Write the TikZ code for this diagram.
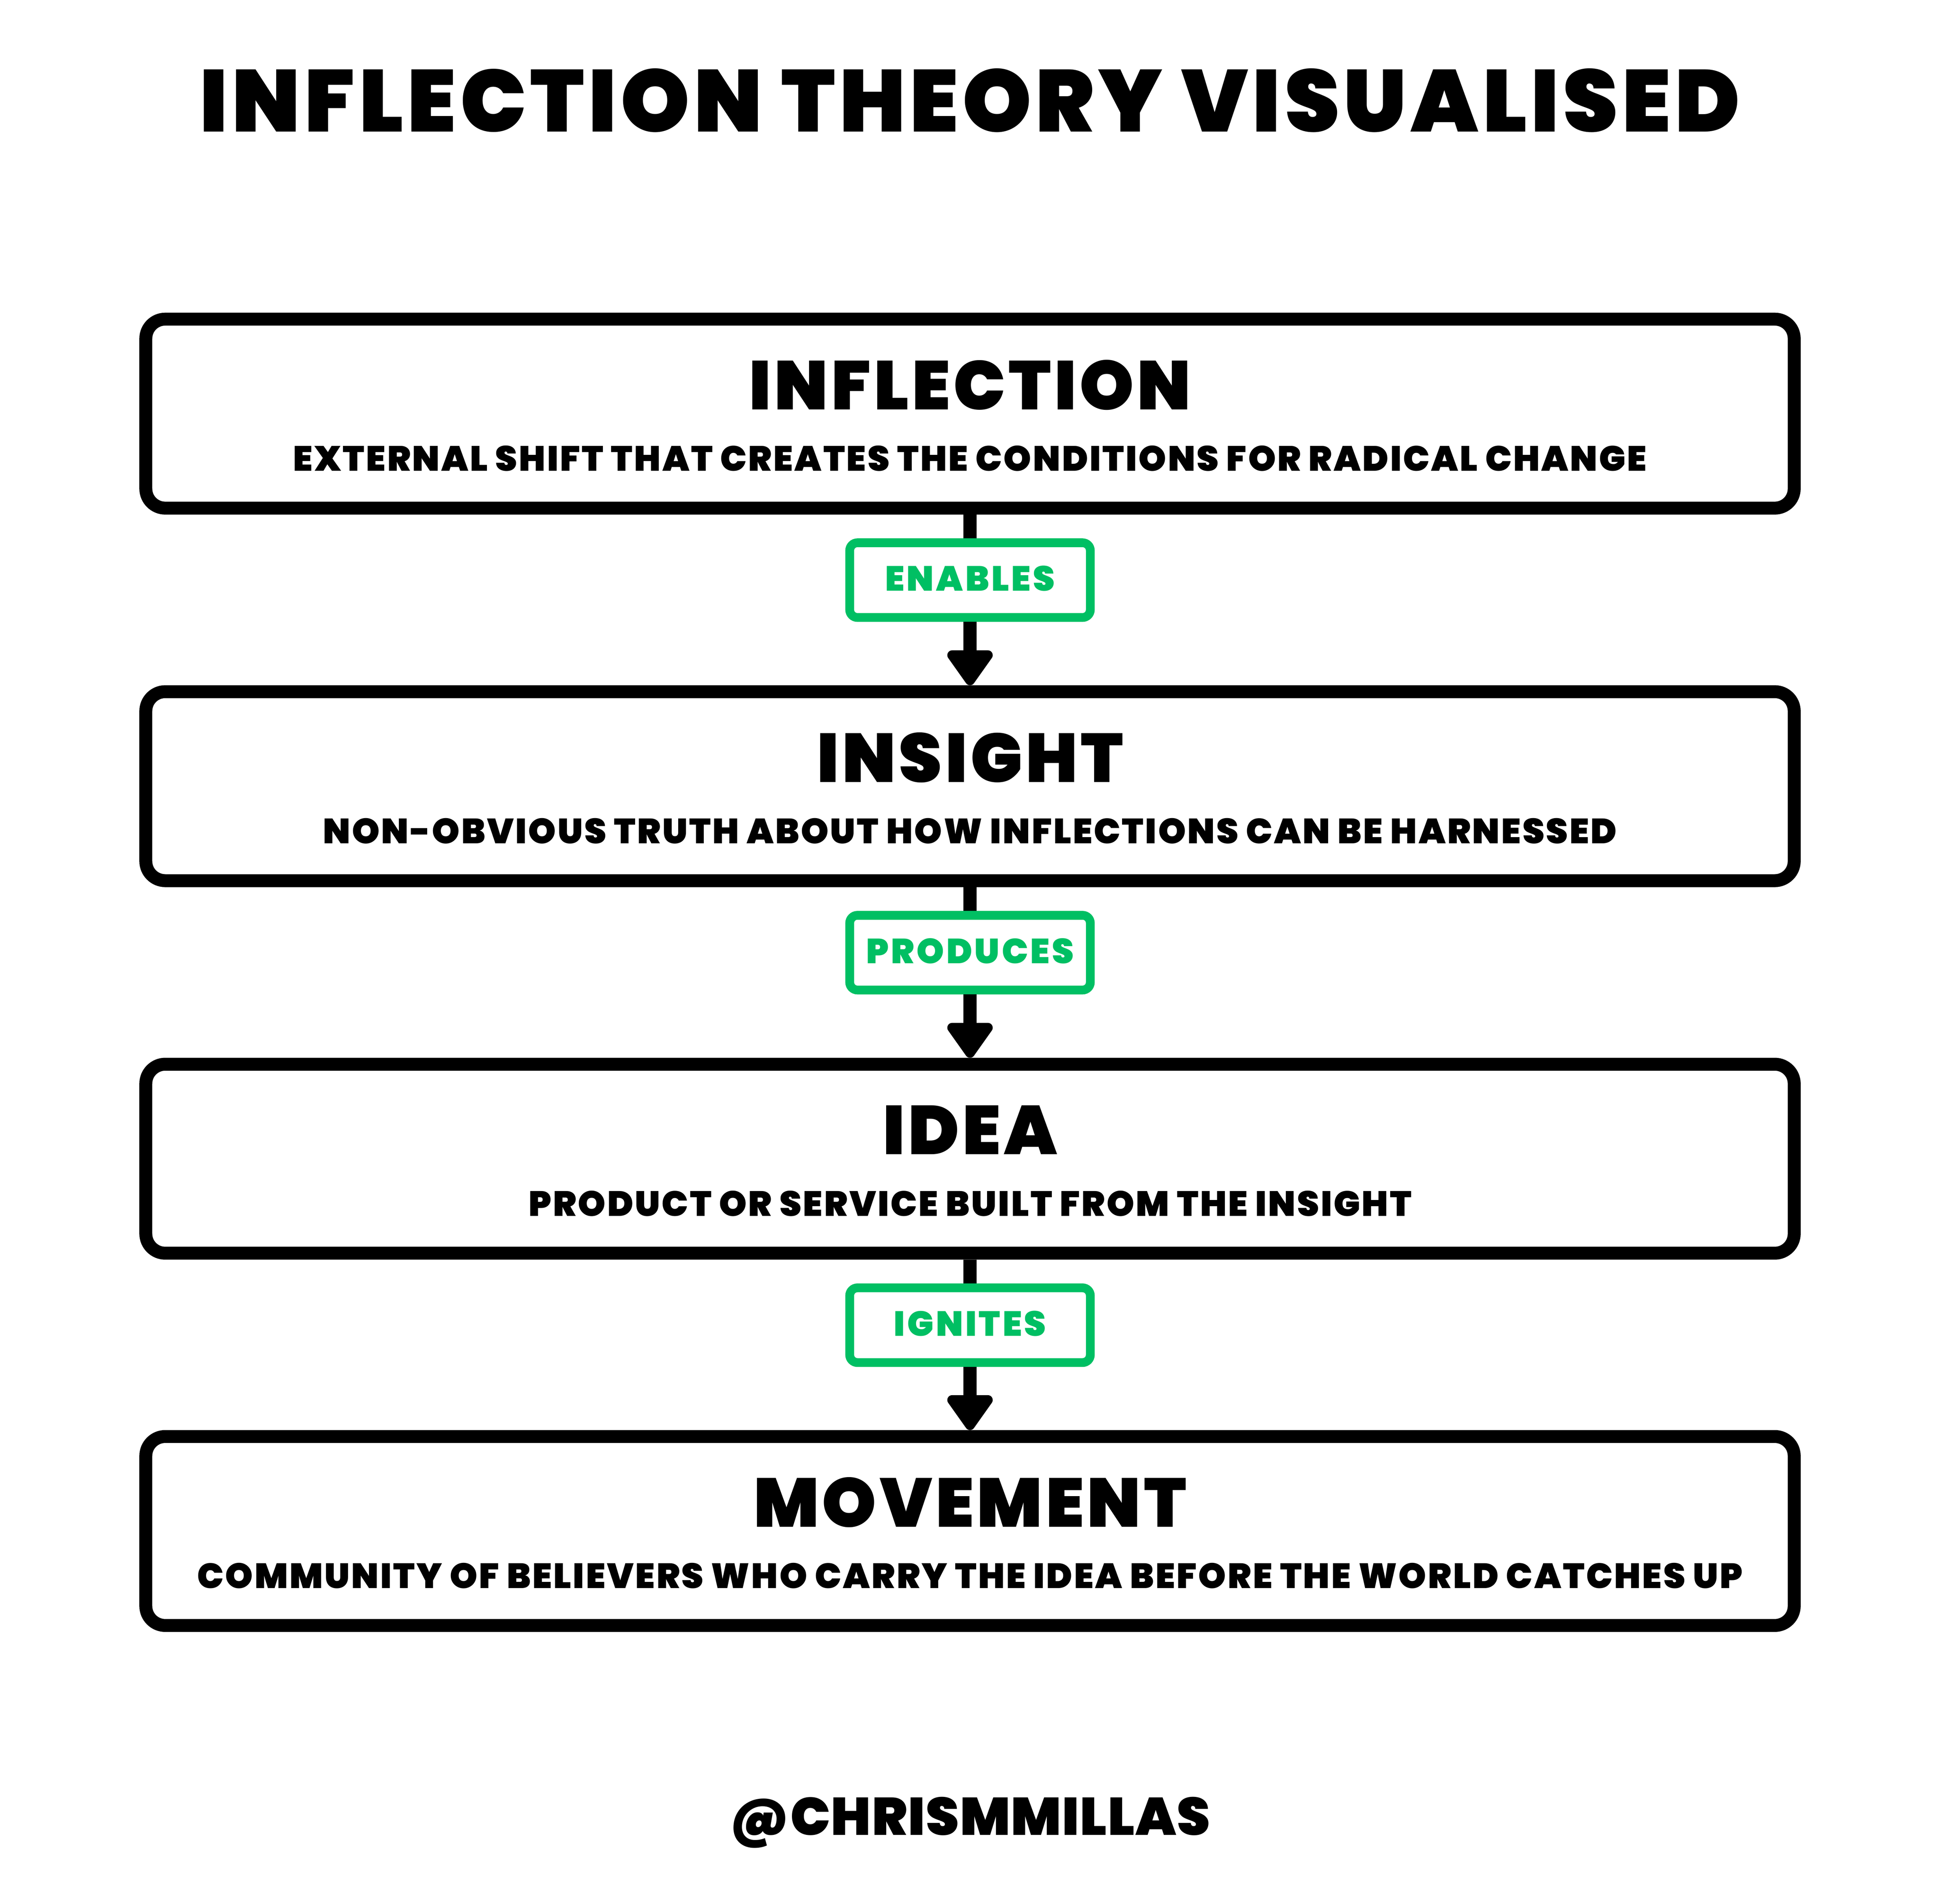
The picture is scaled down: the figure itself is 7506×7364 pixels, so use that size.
\documentclass[tikz,border=0pt]{standalone}
\usepackage{fontspec}
\usepackage{tikz}
\usetikzlibrary{calc,arrows.meta}
\newfontfamily\heavy{Poppins Black}[LetterSpace=4.5]
\newfontfamily\heavytag{Poppins Black}[LetterSpace=6.5]
\newfontfamily\heavyplain{Poppins Black}[LetterSpace=1.5]
\definecolor{ideagreen}{HTML}{00BF63}
\tikzset{
  stage/.style={draw=black, line width=5pt, rounded corners=7.5pt, fill=white,
    minimum width=637.8pt, minimum height=73.1pt, inner sep=0pt},
  verb/.style={draw=ideagreen, line width=3.4pt, rounded corners=3pt, fill=white,
    minimum width=93.1pt, minimum height=28.9pt, inner sep=0pt},
  headtext/.style={anchor=base, inner sep=0pt, font=\heavy\fontsize{26.7}{30}\selectfont},
  subtext/.style={anchor=base, inner sep=0pt, font=\heavy\fontsize{13.6}{16}\selectfont},
  verbtext/.style={anchor=base, inner sep=0pt, text=ideagreen, font=\heavytag\fontsize{13.5}{16}\selectfont},
  link/.style={line width=5pt},
  flow/.style={line width=5pt, -{Triangle[width=20pt,length=15pt,round]}}
}
\begin{document}
\begin{tikzpicture}[x=0.1pt,y=-0.1pt]
  % page
  \useasboundingbox[fill=white] (0,0) rectangle (7506,7364);
  % title and footer
  \node[anchor=base, inner sep=0pt, font=\heavy\fontsize{34}{40}\selectfont] (title) at (3753,510) {INFLECTION THEORY VISUALISED};
  \node[anchor=base, inner sep=0pt, font=\heavyplain\fontsize{20.5}{24}\selectfont] (handle) at (3753,7099) {@CHRISMMILLAS};
  % stage boxes
  \node[stage] (inflection) at (3753,1600) {};
  \node[stage] (insight) at (3753,3041) {};
  \node[stage] (idea) at (3753,4482) {};
  \node[stage] (movement) at (3753,5922) {};
  % verb boxes
  \node[verb] (enables) at (3753,2244) {};
  \node[verb] (produces) at (3753,3685) {};
  \node[verb] (ignites) at (3753,5126) {};
  % connectors
  \draw[link] (inflection) -- (enables);
  \draw[flow] (enables) -- (insight);
  \draw[link] (insight) -- (produces);
  \draw[flow] (produces) -- (idea);
  \draw[link] (idea) -- (ignites);
  \draw[flow] (ignites) -- (movement);
  % box texts
  \node[headtext] (inflectionhead) at ($(inflection.center)+(0,-16)$) {INFLECTION};
  \node[subtext] (inflectionsub) at ($(inflection.center)+(0,222)$) {EXTERNAL SHIFT THAT CREATES THE CONDITIONS FOR RADICAL CHANGE};
  \node[headtext] (insighthead) at ($(insight.center)+(0,-16)$) {INSIGHT};
  \node[subtext] (insightsub) at ($(insight.center)+(0,222)$) {NON-OBVIOUS TRUTH ABOUT HOW INFLECTIONS CAN BE HARNESSED};
  \node[headtext] (ideahead) at ($(idea.center)+(0,-16)$) {IDEA};
  \node[subtext] (ideasub) at ($(idea.center)+(0,222)$) {PRODUCT OR SERVICE BUILT FROM THE INSIGHT};
  \node[headtext] (movementhead) at ($(movement.center)+(0,-16)$) {MOVEMENT};
  \node[subtext] (movementsub) at ($(movement.center)+(0,222)$) {COMMUNITY OF BELIEVERS WHO CARRY THE IDEA BEFORE THE WORLD CATCHES UP};
  % verb texts
  \node[verbtext] (enablestext) at ($(enables.center)+(0,42)$) {ENABLES};
  \node[verbtext] (producestext) at ($(produces.center)+(0,42)$) {PRODUCES};
  \node[verbtext] (ignitestext) at ($(ignites.center)+(0,42)$) {IGNITES};
\end{tikzpicture}
\end{document}
